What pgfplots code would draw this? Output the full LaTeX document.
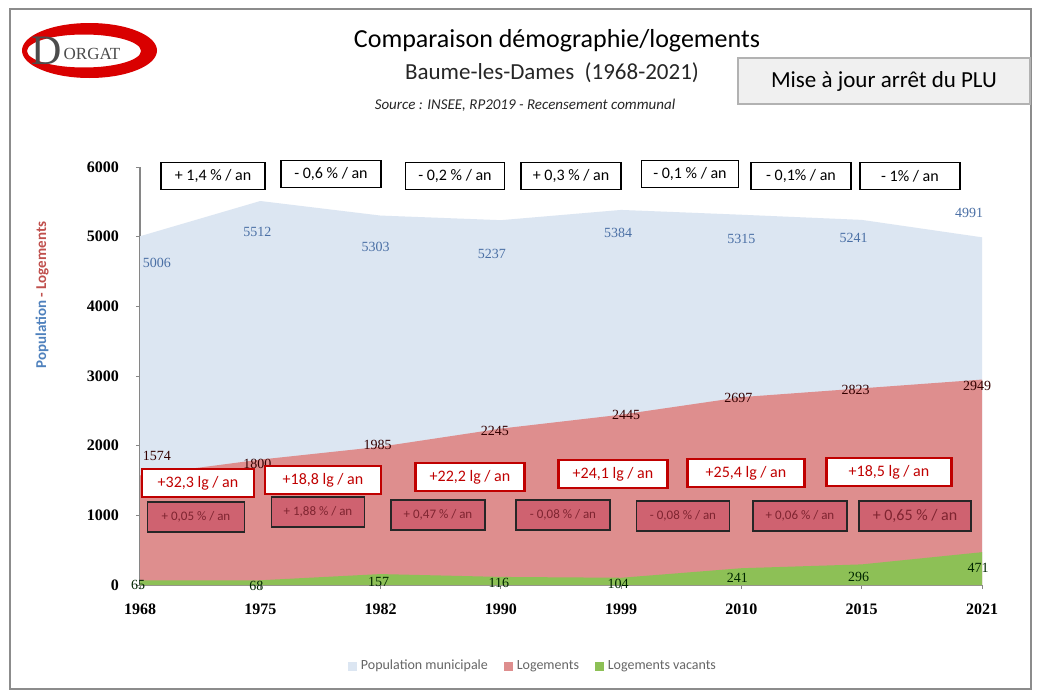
\documentclass[border=0pt]{standalone}
\usepackage{pgfplots}
\pgfplotsset{compat=1.18}
\usepackage{pgfplotstable}
\usepackage{fontspec}
\setmainfont{Carlito}
\newfontfamily\serif{Liberation Serif}
\definecolor{popblue}{HTML}{DCE6F2}
\definecolor{logred}{HTML}{DE8E8E}
\definecolor{vacgreen}{HTML}{8DC056}
\definecolor{boxred}{HTML}{C00000}
\definecolor{darkbox}{HTML}{CF6270}
\definecolor{darkboxtxt}{HTML}{7E2430}
\definecolor{poplabel}{HTML}{4A6FA5}
\definecolor{axgray}{HTML}{868686}
\definecolor{ytblue}{HTML}{4F81BD}
\definecolor{ytred}{HTML}{C0504D}

\pgfplotstableread{
x val lbl dx dy
0 5006 5006 8.5 -13.5
1 5512 5512 -1.5 -15.5
2 5303 5303 -2.5 -15.5
3 5237 5237 -4.5 -17
4 5384 5384 -1.5 -11.5
5 5315 5315 0 -12
6 5241 5241 -4 -9
7 4991 4991 -6.5 12
}\poptable
\pgfplotstableread{
x val lbl dx dy
0 1574 1574 8.5 9.5
1 1800 1800 -1.5 -2
2 1985 1985 -1.5 1
3 2245 2245 -3 -1
4 2445 2445 2.5 0
5 2697 2697 -1.5 -0.5
6 2823 2823 -3 -1
7 2949 2949 -2.5 -3
}\logtable
\pgfplotstableread{
x val lbl dx dy
0 65 65 -1 -2
1 68 68 -2 -3
2 157 157 -1 -4
3 116 116 -1 -3
4 104 104 -1.5 -3
5 241 241 -2 -5
6 296 296 -1.5 -6.5
7 471 471 -2 -8
}\vactable

\begin{document}
\begin{tikzpicture}
\useasboundingbox (0,0) rectangle (520pt,346.5pt);
\fill[white] (0,0) rectangle (520pt,346.5pt);
\begin{axis}[
  at={(70pt,54pt)}, anchor=south west,
  scale only axis, width=421pt, height=209pt,
  xmin=0, xmax=7, ymin=0, ymax=6000,
  clip=false,
  axis x line=bottom, axis y line=left,
  axis line style={-, draw=axgray, line width=0.6pt},
  xtick={0,...,7},
  xticklabels={1968,1975,1982,1990,1999,2010,2015,2021},
  ytick={0,1000,2000,3000,4000,5000,6000},
  tick align=outside, major tick length=2pt,
  tick style={draw=axgray, line width=0.5pt},
  /pgf/number format/assume math mode=true,
  /pgf/number format/1000 sep={},
  tick label style={font=\serif\bfseries\fontsize{8}{9}\selectfont, text=black},
  xticklabel style={yshift=-4pt},
  yticklabel style={xshift=-5pt},
  legend style={at={(0.468,-0.195)}, anchor=center, draw=none, fill=none,
    legend columns=3, font=\fontsize{7}{8}\selectfont, text=black!60,
    /tikz/every even column/.append style={column sep=6pt}},
  legend image code/.code={\fill[#1,draw=none] (0pt,-2.2pt) rectangle (4.4pt,2.2pt);},
]
\addplot[fill=popblue, draw=none] table[x=x,y=val] {\poptable} \closedcycle;
\addlegendentry{Population municipale}
\addplot[fill=logred, draw=none] table[x=x,y=val] {\logtable} \closedcycle;
\addlegendentry{Logements}
\addplot[fill=vacgreen, draw=none] table[x=x,y=val] {\vactable} \closedcycle;
\addlegendentry{Logements vacants}

\addplot[forget plot, draw=none, no marks, nodes near coords, point meta=explicit symbolic,
  visualization depends on={\thisrow{dx}\as\dx},
  visualization depends on={\thisrow{dy}\as\dy},
  every node near coord/.append style={anchor=center, xshift=\dx pt, yshift=\dy pt,
    font=\serif\fontsize{7}{8}\selectfont, text=poplabel, inner sep=0pt}]
  table[x=x,y=val,meta=lbl] {\poptable};
\addplot[forget plot, draw=none, no marks, nodes near coords, point meta=explicit symbolic,
  visualization depends on={\thisrow{dx}\as\dx},
  visualization depends on={\thisrow{dy}\as\dy},
  every node near coord/.append style={anchor=center, xshift=\dx pt, yshift=\dy pt,
    font=\serif\fontsize{7}{8}\selectfont, text=black!80!red, inner sep=0pt}]
  table[x=x,y=val,meta=lbl] {\logtable};
\addplot[forget plot, draw=none, no marks, nodes near coords, point meta=explicit symbolic,
  visualization depends on={\thisrow{dx}\as\dx},
  visualization depends on={\thisrow{dy}\as\dy},
  every node near coord/.append style={anchor=center, xshift=\dx pt, yshift=\dy pt,
    font=\serif\fontsize{7}{8}\selectfont, text=black!85!green, inner sep=0pt}]
  table[x=x,y=val,meta=lbl] {\vactable};
\end{axis}

\begin{scope}[yshift=346.5pt, x=0.5pt, y=-0.5pt]
  % outer frame
  \draw[black!45, line width=0.6pt] (10,9) rectangle (1031,689);
  % logo
  \fill[red!85!black, even odd rule] (89.5,50.5) ellipse [x radius=67.5, y radius=27.5]
        (84,51) ellipse [x radius=57, y radius=16.5];
  \node[font=\serif\fontsize{21}{21}\selectfont, text=black!70] at (47,51) {D};
  \node[font=\serif\fontsize{8.5}{8.5}\selectfont, text=black!70] at (92,54) {ORGAT};
  % titles
  \node[font=\fontsize{13}{14}\selectfont, text=black] at (557,41) {Comparaison démographie/logements};
  \node[font=\fontsize{11.5}{13}\selectfont, text=black!85] at (552,73) {Baume-les-Dames~~(1968-2021)};
  \node[font=\itshape\fontsize{7.5}{8}\selectfont, text=black!85] at (525,105) {Source : INSEE, RP2019 - Recensement communal};
  \node[draw=black!30, fill=black!6, line width=0.6pt, minimum width=146pt, minimum height=23pt,
        font=\fontsize{11.5}{13}\selectfont] at (884,81) {Mise à jour arrêt du PLU};
  % y axis title
  \node[rotate=90, font=\bfseries\fontsize{7.5}{8}\selectfont] at (42,295)
       {\textcolor{ytblue}{Population} \textcolor{ytred}{- Logements}};
  % population rate boxes
  \tikzset{pbox/.style={draw=black, fill=white, line width=0.8pt, inner sep=0pt,
     minimum height=13.5pt, minimum width=50pt, font=\fontsize{8}{9}\selectfont}}
  \node[pbox, minimum width=52pt] at (213,176) {+ 1,4 \% / an};
  \node[pbox] at (331,174) {- 0,6 \% / an};
  \node[pbox, minimum width=49.5pt] at (455,176) {- 0,2 \% / an};
  \node[pbox] at (571,176) {+ 0,3 \% / an};
  \node[pbox, minimum width=48.5pt] at (690,174) {- 0,1 \% / an};
  \node[pbox] at (801,176) {- 0,1\% / an};
  \node[pbox] at (910,176) {- 1\% / an};
  % housing rate boxes
  \tikzset{rbox/.style={draw=boxred, fill=white, line width=1.1pt, inner sep=0pt,
     minimum height=14pt, text=boxred, font=\fontsize{8}{9}\selectfont}}
  \node[rbox, minimum width=56pt] at (198,483) {+32,3 lg / an};
  \node[rbox, minimum width=58pt] at (323,480) {+18,8 lg / an};
  \node[rbox, minimum width=54.5pt] at (470,477) {+22,2 lg / an};
  \node[rbox, minimum width=54.5pt] at (613,474) {+24,1 lg / an};
  \node[rbox, minimum width=58.5pt] at (746,473) {+25,4 lg / an};
  \node[rbox, minimum width=62.5pt] at (889,472) {+18,5 lg / an};
  % vacancy boxes
  \tikzset{dbox/.style={draw=black!85, fill=darkbox, line width=0.8pt, inner sep=0pt,
     minimum height=15pt, minimum width=47pt, text=darkboxtxt, font=\fontsize{6.5}{7}\selectfont}}
  \node[dbox, minimum width=48.5pt] at (196,517) {+ 0,05 \% / an};
  \node[dbox, minimum width=46.5pt] at (318,512) {+ 1,88 \% / an};
  \node[dbox] at (438,515) {+ 0,47 \% / an};
  \node[dbox] at (563,515) {- 0,08 \% / an};
  \node[dbox, minimum width=46.5pt] at (683,516) {- 0,08 \% / an};
  \node[dbox] at (800,516) {+ 0,06 \% / an};
  \node[dbox, minimum width=56pt, font=\fontsize{8}{9}\selectfont] at (915,516) {+ 0,65 \% / an};
\end{scope}
\end{tikzpicture}
\end{document}
